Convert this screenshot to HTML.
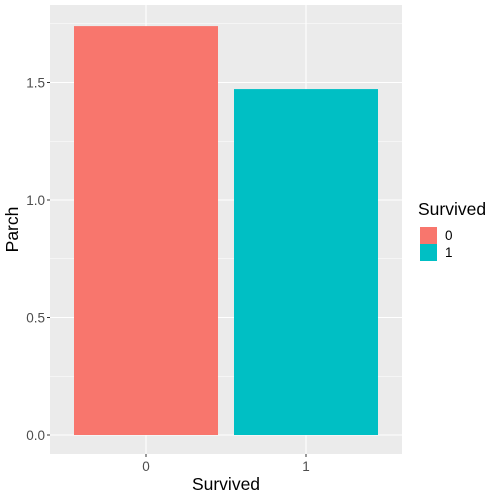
<!DOCTYPE html>
<html><head><meta charset="utf-8"><style>body{margin:0;background:#fff}svg{display:block;font-family:"Liberation Sans",sans-serif}</style></head>
<body>
<svg id="c" width="500" height="500"></svg>
<script>
const categories=["0","1"];
const values=[1.74,1.472];
const colors=["#F8766D","#00BFC4"];
const yTicks=[0,0.5,1.0,1.5];
const yTickLabels=["0.0","0.5","1.0","1.5"];
const yMinor=[0.25,0.75,1.25,1.75];
const NS="http://www.w3.org/2000/svg";
const svg=document.getElementById('c');
const L=50,R=402,T=5,B=454;
const y=v=>435-v*235;
const step=(R-L)/(categories.length+0.2);
const x=i=>L+step*(0.6+i);
function mk(t,a,p){const e=document.createElementNS(NS,t);for(const k in a)e.setAttribute(k,a[k]);(p||svg).appendChild(e);return e;}
const panel=mk('rect',{x:L,y:T,width:R-L,height:B-T,fill:'#EBEBEB'});


yMinor.forEach(v=>{if(y(v)>=T){const l=mk('line',{x1:L,x2:R,y1:y(v),y2:y(v),stroke:'#fff','stroke-width':0.5});

}});
yTicks.forEach((v,i)=>{const l=mk('line',{x1:L,x2:R,y1:y(v),y2:y(v),stroke:'#fff','stroke-width':1.1});


const tk=mk('line',{x1:L-3,x2:L,y1:y(v),y2:y(v),stroke:'#333','stroke-width':1});


const t=mk('text',{x:L-5,y:y(v)+5,'text-anchor':'end','font-size':13.5,fill:'#4D4D4D'});t.textContent=yTickLabels[i];

});
categories.forEach((c,i)=>{const l=mk('line',{x1:x(i),x2:x(i),y1:T,y2:B,stroke:'#fff','stroke-width':1.1});

});
categories.forEach((c,i)=>{const w=step*0.9;
const b=mk('rect',{x:x(i)-w/2,y:y(values[i]),width:w,height:y(0)-y(values[i]),fill:colors[i]});


const tk=mk('line',{x1:x(i),x2:x(i),y1:B,y2:B+3,stroke:'#333','stroke-width':1});


const t=mk('text',{x:x(i),y:B+17,'text-anchor':'middle','font-size':13.5,fill:'#4D4D4D'});t.textContent=c;


const k=mk('rect',{x:420,y:227+i*17,width:17,height:17,fill:colors[i]});


const lt=mk('text',{x:445,y:240+i*17,'font-size':13.5,fill:'#000'});lt.textContent=c;

});
const xt=mk('text',{x:(L+R)/2,y:490,'text-anchor':'middle','font-size':17.5});xt.textContent='Survived';


const yt=mk('text',{x:0,y:0,'text-anchor':'middle','font-size':17.5,transform:`translate(18,${(T+B)/2}) rotate(-90)`});yt.textContent='Parch';


const lg=mk('text',{x:418,y:215,'font-size':17.5});lg.textContent='Survived';


</script>
</body></html>
